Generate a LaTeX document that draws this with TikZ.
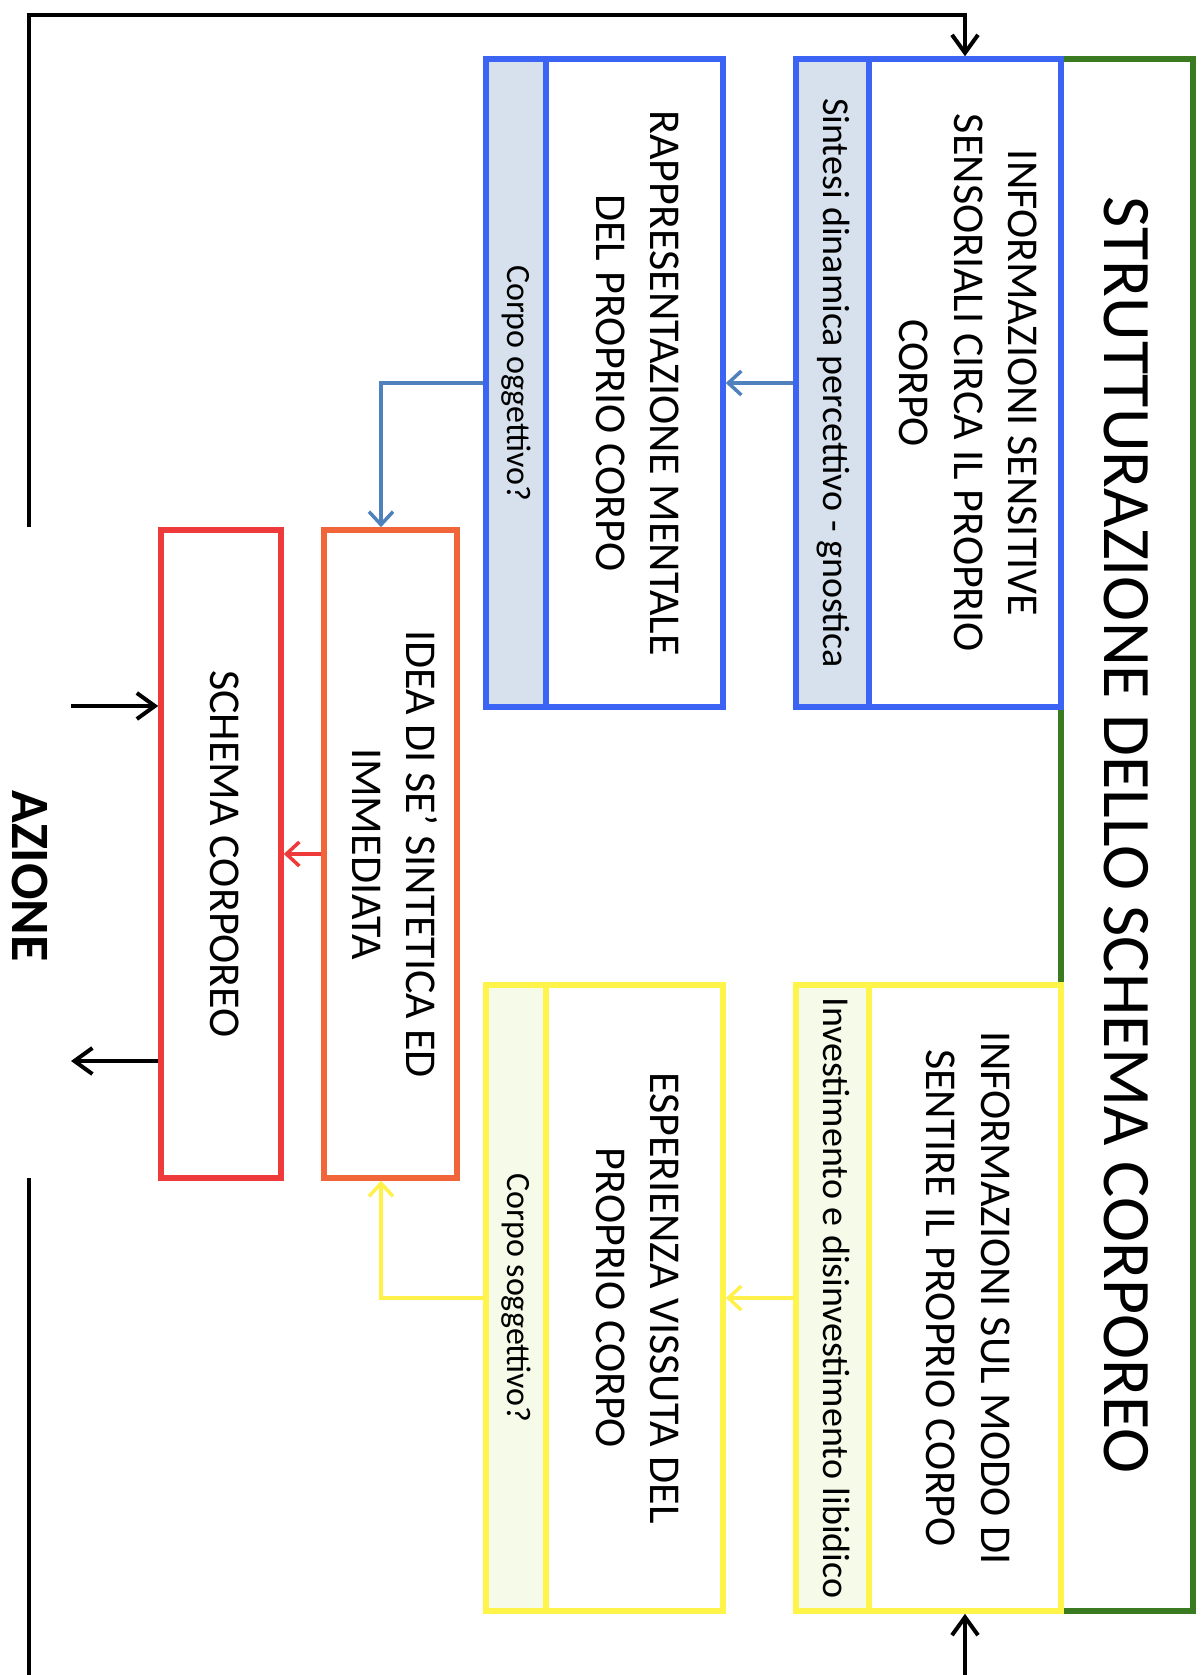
\documentclass[tikz,border=0pt]{standalone}
\usepackage{fontspec}
\usepackage{graphicx}
\setmainfont{Carlito}
\usetikzlibrary{arrows.meta}

\definecolor{framegreen}{HTML}{3A7A20}
\definecolor{boxblue}{HTML}{3B64F4}
\definecolor{stripblue}{HTML}{D7E1ED}
\definecolor{boxyellow}{HTML}{FFF54A}
\definecolor{stripyellow}{HTML}{F6FAE8}
\definecolor{boxorange}{HTML}{F0663A}
\definecolor{boxred}{HTML}{EE3A3A}
\definecolor{linkblue}{HTML}{4F81BD}
\definecolor{linkyellow}{HTML}{FFF04A}

% text set vertically, reading from top to bottom
\newcommand{\vtext}[2]{\rotatebox{-90}{#1\begin{tabular}{@{}c@{}}#2\end{tabular}}}

\tikzset{
  panel/.style={draw, rectangle, line width=5.5pt, inner sep=0pt, fill=white},
  bluepanel/.style={panel, draw=boxblue},
  bluestrip/.style={panel, draw=boxblue, fill=stripblue},
  yellowpanel/.style={panel, draw=boxyellow},
  yellowstrip/.style={panel, draw=boxyellow, fill=stripyellow},
  link/.style={line width=3.5pt, -{Straight Barb[length=13pt,width=24pt,line width=3.5pt]}},
  blackline/.style={line width=4.5pt, black},
  blackarrow/.style={line width=4pt, black, -{Straight Barb[length=18pt,width=26pt,line width=4pt]}},
}

\begin{document}
\begin{tikzpicture}[x=1pt,y=-1pt]
\useasboundingbox (0,0) rectangle (1203,1675);

% outer green frame with the title
\node[draw=framegreen, line width=5.5pt, rectangle, inner sep=0pt,
      minimum width=132pt, minimum height=1552pt] (frame) at (1127,835) {};
\node[inner sep=0pt] (title) at (1120,835)
  {\vtext{\fontsize{68}{80}\selectfont}{STRUTTURAZIONE DELLO SCHEMA CORPOREO}};

% blue column: sensory information and mental representation
\node[bluestrip, minimum width=73pt, minimum height=648pt] (b1strip) at (832.5,383)
  {\vtext{\fontsize{38}{46}\selectfont}{Sintesi dinamica percettivo - gnostica}};
\node[bluepanel, minimum width=192pt, minimum height=648pt] (b1main) at (965,383)
  {\vtext{\fontsize{44}{54.5}\selectfont}{INFORMAZIONI SENSITIVE\\SENSORIALI CIRCA IL PROPRIO\\CORPO}};
\node[bluestrip, minimum width=60pt, minimum height=648pt] (b2strip) at (516,383)
  {\vtext{\fontsize{34}{42}\selectfont}{Corpo oggettivo?}};
\node[bluepanel, minimum width=177pt, minimum height=648pt] (b2main) at (634.5,383)
  {\vtext{\fontsize{44}{54.5}\selectfont}{RAPPRESENTAZIONE MENTALE\\DEL PROPRIO CORPO}};

% yellow column: lived experience of the body
\node[yellowstrip, minimum width=73pt, minimum height=626pt] (y1strip) at (832.5,1298)
  {\vtext{\fontsize{38}{46}\selectfont}{Investimento e disinvestimento libidico}};
\node[yellowpanel, minimum width=192pt, minimum height=626pt] (y1main) at (965,1298)
  {\vtext{\fontsize{44}{54.5}\selectfont}{INFORMAZIONI SUL MODO DI\\SENTIRE IL PROPRIO CORPO}};
\node[yellowstrip, minimum width=60pt, minimum height=626pt] (y2strip) at (516,1298)
  {\vtext{\fontsize{34}{42}\selectfont}{Corpo soggettivo?}};
\node[yellowpanel, minimum width=177pt, minimum height=626pt] (y2main) at (634.5,1298)
  {\vtext{\fontsize{44}{54.5}\selectfont}{ESPERIENZA VISSUTA DEL\\PROPRIO CORPO}};

% synthesis and body schema
\node[panel, draw=boxorange, minimum width=133pt, minimum height=648pt] (idea) at (390.5,854)
  {\vtext{\fontsize{44}{54.5}\selectfont}{IDEA DI SE’ SINTETICA ED\\IMMEDIATA}};
\node[panel, draw=boxred, minimum width=120pt, minimum height=648pt] (schema) at (221,854)
  {\vtext{\fontsize{44}{54.5}\selectfont}{SCHEMA CORPOREO}};

% action label
\node[inner sep=0pt] (azione) at (25,876)
  {\vtext{\fontsize{54}{64}\selectfont\bfseries}{AZIONE}};

% connectors between the panels
\draw[link, linkblue] (b1strip.west) -- (b2main.east);
\draw[link, linkblue] (b2strip.west) -| ([xshift=-9.5pt]idea.north);
\draw[link, linkyellow] (y1strip.west) -- (y2main.east);
\draw[link, linkyellow] (y2strip.west) -| ([xshift=-9.5pt]idea.south);
\draw[link, boxred] (idea.west) -- (schema.east);

% action loop
\coordinate (loopstart) at (29,527);
\coordinate (loopend) at (29,1178);
\coordinate (bottomleft) at (29,1675);
\coordinate (bottomin) at (965,1675);
\coordinate (actin) at (71,706);
\coordinate (actout) at (71,1061);

\draw[blackarrow] (loopstart) -- (29,15) -| (b1main.north);
\draw[blackline] (loopend) -- (bottomleft);
\draw[blackarrow] (bottomin) -- (y1main.south);
\draw[blackarrow] (actin) -- (actin -| schema.west);
\draw[blackarrow] (actout -| schema.west) -- (actout);
\end{tikzpicture}
\end{document}
